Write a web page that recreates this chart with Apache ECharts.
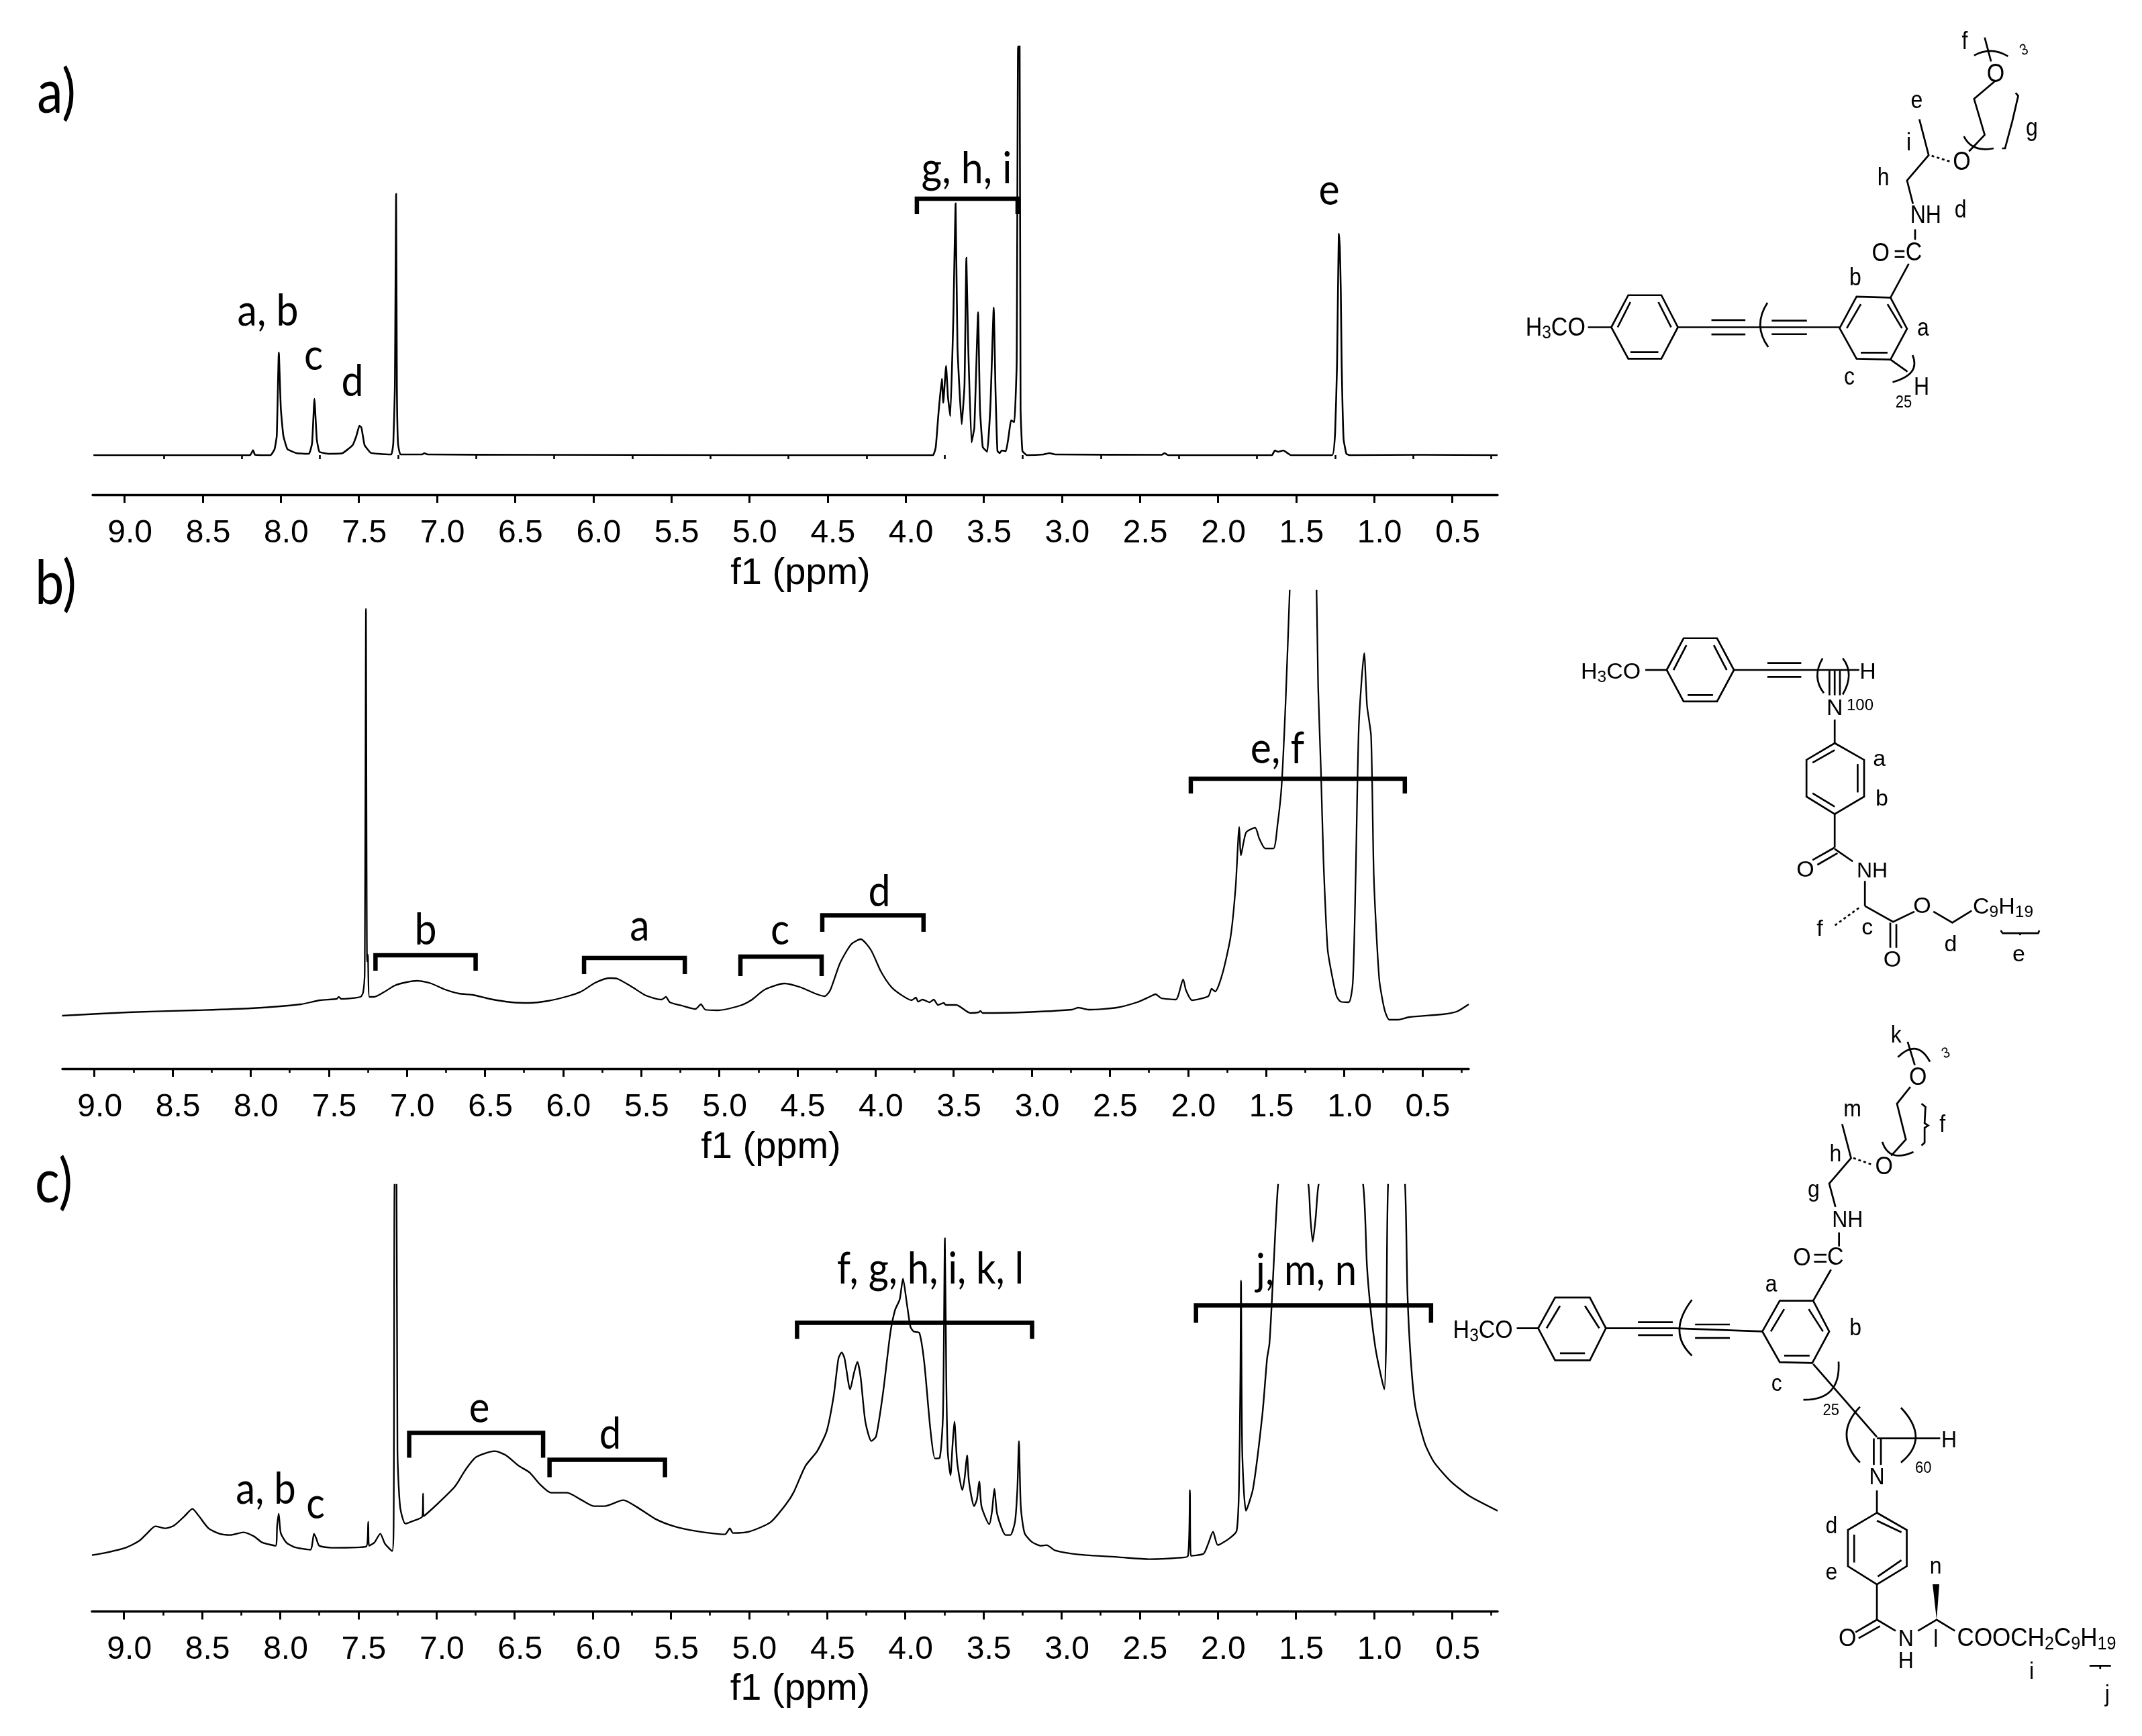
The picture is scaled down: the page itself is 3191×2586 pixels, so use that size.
<!DOCTYPE html>
<html>
<head>
<meta charset="utf-8">
<style>html,body{margin:0;padding:0;background:#fff}#c{width:3191px;height:2586px}</style>
<script src="https://cdn.jsdelivr.net/npm/echarts@6/dist/echarts.min.js"></script>
</head>
<body>
<div id="c"></div>
<script>
// ---------- data (ppm, signal) ----------
const tickValues = [9,8.5,8,7.5,7,6.5,6,5.5,5,4.5,4,3.5,3,2.5,2,1.5,1,0.5];
const minorTickValues = [8.75,8.25,7.75,7.25,6.75,6.25,5.75,5.25,4.75,4.25,3.75,3.25,2.75,2.25,1.75,1.25,0.75,0.25];
const axisTitle = 'f1 (ppm)';

const spectrumA = [[9.2,0],[8.197,0],[8.178,7.5],[8.165,0.5],[8.066,0],[8.04,9],[8.026,29],[8.013,153],[8,69],[7.984,29],[7.958,9],[7.9,3],[7.82,2],[7.8,18],[7.785,84],[7.77,24],[7.753,5],[7.69,2],[7.605,3],[7.54,15],[7.516,29],[7.497,44],[7.484,41],[7.464,15],[7.425,3.5],[7.375,2],[7.293,1],[7.28,18],[7.27,100],[7.262,389],[7.257,101],[7.25,18],[7.234,1],[7.095,1],[7.082,3],[7.06,1],[6.4,0.5],[5,0],
[3.825,0],[3.807,12],[3.789,64],[3.768,114],[3.759,78],[3.741,133],[3.729,87],[3.714,58],[3.695,200],[3.68,375],[3.668,161],[3.641,46],[3.623,104],[3.611,294],[3.599,161],[3.578,19],[3.56,41],[3.536,213],[3.524,69],[3.506,12],[3.478,5],[3.457,75],[3.436,220],[3.424,92],[3.412,6],[3.397,3],[3.385,7],[3.358,6],[3.34,29],[3.325,52],[3.304,49],[3.289,138],[3.28,609],[3.27,609],[3.264,69],[3.252,6],[3.222,0],[3.117,1],[3.08,3],[3.04,1],[2.36,0.5],[2.342,3],[2.32,0],
[1.655,0],[1.636,7],[1.615,5],[1.582,7],[1.549,2],[1.534,0],[1.269,0],[1.25,35],[1.238,133],[1.226,330],[1.22,310],[1.214,247],[1.208,133],[1.196,24],[1.178,2],[1.155,0],[0.7,0.5],[0.21,0]];

const spectrumB = [[9.207,79],[8.786,84],[8.36,87],[8,90],[7.68,96],[7.557,102],[7.45,104],[7.436,107],[7.42,104],[7.297,107],[7.28,114],[7.27,145],[7.262,685],[7.255,160],[7.25,170],[7.24,107],[7.21,107],[7.148,114],[7.077,124],[7,129],[6.934,131],[6.845,127],[6.756,118],[6.667,112],[6.578,110],[6.47,104],[6.33,99],[6.22,98],[6.097,101],[5.97,108],[5.884,115],[5.795,128],[5.705,135],[5.652,134],[5.56,122],[5.47,109],[5.37,103],[5.342,107],[5.317,99],[5.24,94],[5.153,89],[5.118,96],[5.09,88],[5.01,87],[4.868,94],[4.797,102],[4.708,118],[4.583,127],[4.476,121],[4.387,112],[4.327,108],[4.29,117],[4.228,157],[4.157,185],[4.095,193],[4.03,177],[3.966,145],[3.9,122],[3.836,110],[3.77,102],[3.742,106],[3.727,100],[3.7,103],[3.654,99],[3.628,103],[3.6,95],[3.563,98],[3.55,95],[3.484,95],[3.393,83],[3.34,84],[3.328,86],[3.315,83],[3.055,84],[2.742,88],[2.703,91],[2.638,88],[2.456,91],[2.326,99],[2.247,107],[2.208,111],[2.17,105],[2.078,103],[2.031,133],[2.013,117],[1.974,102],[1.87,108],[1.849,119],[1.826,115],[1.779,142],[1.727,197],[1.695,271],[1.672,360],[1.661,318],[1.628,352],[1.57,359],[1.544,343],[1.505,328],[1.453,328],[1.427,363],[1.401,421],[1.375,547],[1.349,712],[1.336,800],[1.258,900],[1.193,800],[1.177,712],[1.167,570],[1.149,444],[1.133,312],[1.107,180],[1.088,151],[1.049,108],[1.023,100],[0.971,99],[0.945,128],[0.927,283],[0.906,513],[0.872,619],[0.854,541],[0.828,495],[0.81,283],[0.776,134],[0.742,88],[0.711,73],[0.659,73],[0.581,77],[0.372,81],[0.281,85],[0.203,96]];

const spectrumC = [[9.205,84],[9.11,88],[8.99,95],[8.904,105],[8.85,117],[8.8,127],[8.733,124],[8.68,128],[8.613,142],[8.562,153],[8.52,142],[8.459,124],[8.39,116],[8.32,114],[8.236,118],[8.168,112],[8.116,103],[8.03,98],[8.02,128],[8.01,146],[7.997,117],[7.962,103],[7.91,96],[7.808,92],[7.784,116],[7.77,109],[7.75,98],[7.67,95],[7.449,97],[7.437,134],[7.432,98],[7.397,103],[7.36,116],[7.33,101],[7.284,90],[7.274,150],[7.268,640],[7.256,640],[7.25,239],[7.233,156],[7.2,131],[7.16,134],[7.09,142],[7.086,176],[7.083,142],[7,159],[6.883,186],[6.815,211],[6.747,230],[6.627,239],[6.558,233],[6.473,217],[6.404,207],[6.336,189],[6.267,177],[6.164,177],[6.079,167],[5.993,157],[5.925,157],[5.805,166],[5.72,156],[5.6,138],[5.48,127],[5.342,120],[5.154,115],[5.123,124],[5.103,117],[5,119],[4.863,133],[4.76,161],[4.714,178],[4.639,217],[4.564,239],[4.503,269],[4.458,322],[4.428,377],[4.407,386],[4.389,377],[4.353,331],[4.329,355],[4.307,372],[4.286,349],[4.256,283],[4.217,254],[4.187,261],[4.142,327],[4.096,415],[4.066,449],[4.036,465],[4.015,496],[3.991,460],[3.967,424],[3.946,417],[3.91,415],[3.879,371],[3.84,272],[3.81,228],[3.78,229],[3.759,294],[3.747,556],[3.738,349],[3.729,240],[3.711,203],[3.699,244],[3.686,283],[3.668,222],[3.635,181],[3.62,200],[3.605,233],[3.593,194],[3.56,157],[3.542,167],[3.527,194],[3.512,156],[3.463,130],[3.445,150],[3.43,183],[3.412,145],[3.358,114],[3.328,114],[3.298,134],[3.283,183],[3.273,254],[3.261,156],[3.237,117],[3.192,104],[3.132,98],[3.096,99],[3.041,91],[2.891,85],[2.634,81],[2.438,78],[2.258,80],[2.191,83],[2.179,181],[2.173,83],[2.092,86],[2.062,101],[2.031,119],[2,99],[1.926,109],[1.88,120],[1.865,183],[1.856,349],[1.852,493],[1.844,239],[1.82,150],[1.775,183],[1.715,294],[1.685,377],[1.67,399],[1.655,460],[1.64,530],[1.615,635],[1.534,800],[1.42,635],[1.408,587],[1.393,551],[1.374,587],[1.356,635],[1.2,800],[1.07,635],[1.046,515],[1.022,449],[0.992,393],[0.962,357],[0.935,331],[0.923,404],[0.911,635],[0.86,800],[0.802,635],[0.787,476],[0.766,377],[0.736,305],[0.675,250],[0.615,222],[0.51,194],[0.39,172],[0.21,150]];

// brackets: [from ppm, to ppm, level, foot level]
const bracketsA = [[3.928,3.283,382,359]];
const bracketsB = [[7.201,6.56,169,146],[5.866,5.221,165,141],[4.865,4.345,167,138],[4.341,3.693,228.5,204],[1.982,0.612,432,410]];
const bracketsC = [[7.175,6.318,266,229],[6.277,5.538,226,200],[4.693,3.189,430,406],[2.14,0.636,456,430]];

// ---------- layout ----------
const panels = [
  {spec:spectrumA, br:bracketsA, left:138, right:2231, top:69,   axisY:737,  yMin:-59, yMax:609,  xMin:0.21,  lw:2.6},
  {spec:spectrumB, br:bracketsB, left:93,  right:2188, top:880,  axisY:1592, yMin:0,   yMax:712,  xMin:0.203, lw:2.3},
  {spec:spectrumC, br:bracketsC, left:137, right:2231, top:1765, axisY:2400.6,yMin:0,  yMax:635.6,xMin:0.21,  lw:2.4}
];
const H = 2586;
const grid=[], xAxis=[], yAxis=[], series=[];
panels.forEach((p,i)=>{
  grid.push({left:p.left, width:p.right-p.left, top:p.top, height:p.axisY-p.top});
  const common = {type:'value', gridIndex:i, inverse:true, min:p.xMin, max:9.205, position:'bottom', splitLine:{show:false}};
  xAxis.push({...common,
    name:axisTitle, nameLocation:'middle', nameGap:[90,90,88][i],
    nameTextStyle:{fontFamily:'Liberation Sans',fontSize:56,color:'#000',padding:[0,0,0,16]},
    axisLine:{show:true,onZero:false,lineStyle:{color:'#000',width:3.4}},
    axisTick:{show:true,customValues:tickValues,length:12,lineStyle:{color:'#000',width:3}},
    axisLabel:{show:true,customValues:tickValues,margin:[34,34,33][i],padding:[0,0,0,16],fontFamily:'Liberation Sans',fontSize:48,color:'#000',formatter:v=>v.toFixed(1)}
  });
  xAxis.push({...common,
    axisLine:{show:false},
    axisTick:{show:true,customValues:minorTickValues,length:6,lineStyle:{color:'#000',width:2.6}},
    axisLabel:{show:false}
  });
  yAxis.push({type:'value',gridIndex:i,show:false,min:p.yMin,max:p.yMax,splitLine:{show:false}});
  series.push({type:'line',xAxisIndex:i*2,yAxisIndex:i,data:p.spec,showSymbol:false,symbol:'none',smooth:[0.12,0.22,0.22][i],
    lineStyle:{color:'#000',width:p.lw,join:'miter'},clip:true,animation:false,silent:true});
  p.br.forEach(b=>{
    series.push({type:'line',xAxisIndex:i*2,yAxisIndex:i,
      data:[[b[0],b[3]],[b[0],b[2]],[b[1],b[2]],[b[1],b[3]]],
      showSymbol:false,symbol:'none',lineStyle:{color:'#000',width:6.5,join:'miter',cap:'butt'},animation:false,silent:true});
  });
});

// ---------- text and structure drawing ----------
const g = [];
const SANS='"Liberation Sans"', LATO='Lato';
function T(text,cx,base,size,font,sy){
  g.push({type:'text',x:cx,y:base+0.09*size,scaleY:sy||1,silent:true,
    style:{text,x:0,y:-0.36*size,font:size+'px '+font,fill:'#000',textAlign:'center',textVerticalAlign:'middle'}});
}
[['a)',84,164,77,1.18],['b)',83,896,77,1.18],['c)',80,1787,77,1.18],
 ['a, b',399,482,59,1.12],['c',467,548,59,1.12],['d',525,587,59,1.12],['g, h, i',1440,270,59,1.12],['e',1980,302,59,1.12],
 ['b',634,1404,59,1.12],['a',953,1398,59,1.12],['c',1162,1404,59,1.12],['d',1310,1347,59,1.12],['e, f',1903,1134,59,1.12],
 ['a, b',396,2237,58,1.12],['c',470,2259,58,1.12],['e',714,2116,58,1.12],['d',909,2155,58,1.12],
 ['f, g, h, i, k, l',1386,1909,58,1.12],['j, m, n',1946,1911,58,1.12]
].forEach(a=>T(a[0],a[1],a[2],a[3],LATO,a[4]));

function structure(ox,oy,fx,fy,sy){
  const X=x=>ox+x/fx, Y=y=>oy+y/fy, W=2.7;
  return {
    line(pts,close,dash){
      const shape={points:pts.map(p=>[X(p[0]),Y(p[1])])};
      g.push({type:close?'polygon':'polyline',shape,silent:true,
        style:{stroke:'#000',fill:null,lineWidth:W,lineDash:dash||null,lineJoin:'miter'}});
    },
    segs(list){list.forEach(s=>this.line([[s[0],s[1]],[s[2],s[3]]]));},
    hash(a,b){this.line([a,b],false,[4,4]);},
    fill(pts){g.push({type:'polygon',shape:{points:pts.map(p=>[X(p[0]),Y(p[1])])},silent:true,style:{fill:'#000'}});},
    curve(a,m,b){
      const cx=2*m[0]-(a[0]+b[0])/2, cy=2*m[1]-(a[1]+b[1])/2;
      g.push({type:'bezierCurve',shape:{x1:X(a[0]),y1:Y(a[1]),x2:X(b[0]),y2:Y(b[1]),cpx1:X(cx),cpy1:Y(cy)},silent:true,
        style:{stroke:'#000',fill:null,lineWidth:W}});
    },
    text(s,x,y,size,rot){
      g.push({type:'text',x:X(x),y:Y(y),rotation:rot||0,scaleY:sy,silent:true,
        style:{text:s,font:(size||32)+'px '+SANS,fill:'#000',textAlign:'center',textVerticalAlign:'middle'}});
    },
    chem(s,x,y,size){
      // x = left edge; digits become subscripts
      const w={H:.722,C:.722,O:.778};
      let px=X(x);
      for(const ch of s){
        const sub=/\d/.test(ch), fs=sub?size*.72:size, adv=(sub?.556:w[ch])*fs;
        g.push({type:'text',x:px+adv/2,y:Y(y)+(sub?size*.22:0),scaleY:sy,silent:true,
          style:{text:ch,font:fs+'px '+SANS,fill:'#000',textAlign:'center',textVerticalAlign:'middle'}});
        px+=adv;
      }
    }
  };
}

// structure a
let s=structure(2200,0,1.582,2.24,1.15);
s.line([[317,1092],[357,985],[435,985],[474,1092],[435,1197],[357,1197]],true);
s.line([[474,1092],[855,1092]]);
s.line([[855,1095],[895,990],[975,993],[1014,1097],[975,1200],[895,1197]],true);
s.segs([[332,1092,362,1008],[428,1008,458,1092],[362,1175,428,1175],[262,1092,317,1092],
 [553,1068,633,1068],[553,1116,633,1116],[695,1070,778,1070],[695,1115,778,1115],
 [872,1095,905,1015],[968,1015,1002,1095],[905,1177,968,1177],[975,993,1018,880],
 [985,838,1008,838],[985,857,1008,857],[1033,765,1033,800],[1212,205,1197,125],[975,1200,1015,1240]]);
s.line([[1028,680],[1014,602],[1065,518],[1043,398]]);
s.hash([1072,520],[1118,540]);
s.line([[1160,505],[1197,450],[1172,330],[1222,270]]);
s.curve([685,1010],[668,1085],[687,1158]);
s.curve([1148,455],[1175,492],[1218,495]);
s.curve([1172,185],[1212,170],[1252,188]);
s.curve([1027,1185],[1025,1240],[980,1275]);
s.line([[1270,310],[1276,320],[1262,405],[1245,495],[1238,495]]);
s.chem('H3CO',115,1095,34);
s.text('NH',1058,722,32);s.text('O',952,848,34);s.text('C',1030,845,34);
s.text('O',1143,542,34);s.text('O',1223,250,34);s.text('H',1048,1295,32);
s.text('25',1006,1345,22);s.text('3',1290,168,20,0.4);
[['e',1037,338],['i',1018,480],['h',958,595],['d',1140,702],['b',892,930],['a',1052,1098],['c',878,1260],['f',1150,140],['g',1308,430]]
 .forEach(a=>s.text(a[0],a[1],a[2],32));

// structure b
s=structure(2250,850,1.666,2.412,1.0);
s.line([[388,357],[430,243],[513,243],[555,357],[513,470],[430,470]],true);
s.line([[805,620],[878,680],[878,812],[805,875],[735,812],[735,680]],true);
s.segs([[405,357,437,268],[505,268,537,357],[440,447,503,447],[335,357,388,357],[555,357,866,357],
 [638,332,722,332],[638,382,722,382],[792,360,792,448],[805,360,805,448],[818,360,818,448],
 [805,535,805,620],[805,645,750,690],[862,695,862,797],[750,800,805,848],[805,875,805,995],
 [805,995,750,1040],[812,1015,762,1057],[805,1000,850,1045],[880,1115,880,1205],
 [943,1265,943,1355],[958,1270,958,1355],[1265,1303,1265,1310]]);
s.line([[880,1205],[950,1262],[1003,1225]]);
s.line([[1050,1225],[1097,1265],[1145,1222]]);
s.hash([865,1212],[805,1275]);
s.curve([775,315],[762,380],[778,440]);
s.curve([825,315],[840,375],[825,445]);
s.line([[1217,1293],[1222,1303],[1310,1303],[1313,1293]]);
s.chem('H3CO',175,365,34);s.chem('C9H19',1148,1210,34);
s.text('H',887,365,34);s.text('N',805,495,34);s.text('100',868,485,24);
s.text('O',732,1078,34);s.text('NH',898,1080,32);s.text('O',1022,1208,34);s.text('O',948,1400,34);
[['a',916,680],['b',922,822],['f',768,1290],['c',886,1285],['d',1093,1345],['e',1262,1380]]
 .forEach(a=>s.text(a[0],a[1],a[2],34));

// structure c
s=structure(2150,1500,1.506,1.444,1.1);
s.line([[213,691],[251,625],[329,625],[365,691],[329,760],[251,760]],true);
s.line([[716,698],[755,632],[830,632],[866,698],[828,766],[755,764]],true);
s.line([[973,1088],[1040,1125],[1040,1203],[973,1242],[908,1203],[908,1125]],true);
s.line([[365,691],[520,691],[716,698]]);
s.segs([[232,691,262,643],[318,643,350,691],[262,745,318,745],[165,691,213,691],
 [437,678,515,678],[437,706,515,706],[565,683,643,683],[565,712,643,712],
 [735,698,765,650],[820,650,852,698],[765,750,822,750],[830,632,870,565],
 [832,533,860,533],[832,548,860,548],[888,485,888,515],[830,768,973,925],[973,928,1115,928],
 [966,928,966,985],[982,928,982,985],[973,1040,973,1088],[973,1105,1028,1130],[922,1135,922,1195],[975,1225,1028,1190],
 [973,1242,973,1318],[973,1318,925,1345],[980,1332,932,1358],[973,1318,1015,1342],[1058,125,1042,75],[1450,1417,1498,1417],[1474,1417,1474,1424]]);
s.line([[880,430],[866,380],[915,325],[895,252]]);
s.hash([920,325],[965,340]);
s.line([[1005,320],[1038,285],[1018,208],[1048,172]]);
s.line([[1065,1342],[1107,1318],[1148,1342]]);
s.fill([[1107,1318],[1098,1242],[1113,1242]]);
s.curve([558,630],[530,695],[558,750]);
s.curve([985,290],[1010,318],[1055,312]);
s.curve([1020,108],[1060,90],[1092,118]);
s.curve([887,763],[870,825],[808,845]);
s.curve([935,860],[905,920],[935,980]);
s.curve([1027,862],[1060,925],[1027,980]);
s.line([[1073,208],[1082,215],[1080,250],[1088,255],[1080,260],[1080,292],[1073,298]]);
s.chem('H3CO',22,697,34);s.chem('COOCH2C9H19',1153,1360,35);
s.text('NH',907,460,32);s.text('O',805,541,34);s.text('C',880,540,34);s.text('O',989,345,34);s.text('O',1065,153,34);
s.text('H',1135,933,32);s.text('N',973,1012,32);s.text('O',907,1360,34);s.text('N',1038,1360,32);s.text('H',1038,1408,32);
s.text('25',870,868,22);s.text('60',1077,993,22);s.text('3',1128,100,20,0.4);
[['k',1016,62],['m',918,222],['h',880,318],['g',831,395],['f',1120,255],['a',736,598],['b',925,692],['c',748,812],['d',871,1118],['e',871,1218],['n',1105,1205],['l',1105,1362],['i',1320,1432],['j',1490,1480]]
 .forEach(a=>s.text(a[0],a[1],a[2],32));

const chart = echarts.init(document.getElementById('c'),null,{renderer:'canvas',width:3191,height:H});
chart.setOption({animation:false,backgroundColor:'#fff',grid,xAxis,yAxis,series,graphic:{elements:g}});
</script>
</body>
</html>
